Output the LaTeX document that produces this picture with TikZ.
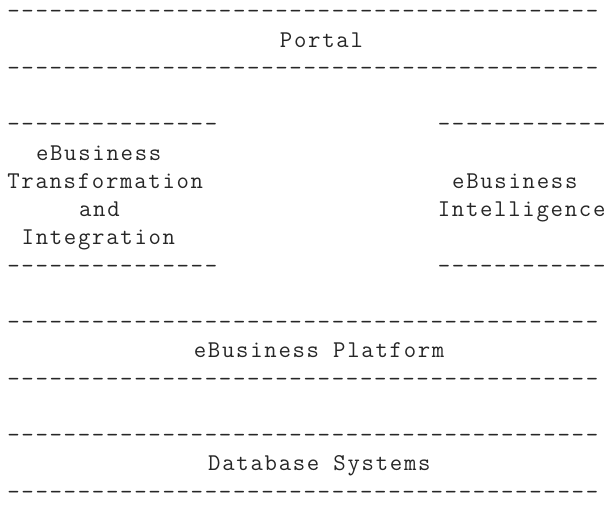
\documentclass[tikz,border=0pt]{standalone}
\usepackage{fontspec}
\setmonofont{Latin Modern Mono}[LetterSpace=7.12]
\tikzset{
  asc/.style={font=\ttfamily\fontsize{24.07pt}{28pt}\selectfont, text=black!85,
              inner sep=0pt, outer sep=0pt, anchor=base west},
}
% column c, row r  ->  x = 7.3 + 14.35 c ,  baseline y = 18.8 + 28.25 r
\newcommand{\cx}[1]{7.3+14.35*#1}
\newcommand{\ry}[1]{18.8+28.25*#1}
\begin{document}
\begin{tikzpicture}[x=1pt,y=-1pt]
\useasboundingbox (0,0) rectangle (611,504);
% Portal
\node[asc] (portalTop) at ({\cx{0}},{\ry{0}}) {------------------------------------------};
\node[asc] (portal)    at ({\cx{19}},{\ry{1}}) {Portal};
\node[asc] (portalBot) at ({\cx{0}},{\ry{2}}) {------------------------------------------};
% eBusiness Transformation and Integration
\node[asc] (tiTop) at ({\cx{0}},{\ry{4}}) {---------------};
\node[asc] (ti1)   at ({\cx{2}},{\ry{5}}) {eBusiness};
\node[asc] (ti2)   at ({\cx{0}},{\ry{6}}) {Transformation};
\node[asc] (ti3)   at ({\cx{5}},{\ry{7}}) {and};
\node[asc] (ti4)   at ({\cx{1}},{\ry{8}}) {Integration};
\node[asc] (tiBot) at ({\cx{0}},{\ry{9}}) {---------------};
% eBusiness Intelligence
\node[asc] (biTop) at ({\cx{30}},{\ry{4}}) {------------};
\node[asc] (bi1)   at ({\cx{31}},{\ry{6}}) {eBusiness};
\node[asc] (bi2)   at ({\cx{30}},{\ry{7}}) {Intelligence};
\node[asc] (biBot) at ({\cx{30}},{\ry{9}}) {------------};
% eBusiness Platform
\node[asc] (platTop) at ({\cx{0}},{\ry{11}}) {------------------------------------------};
\node[asc] (plat)    at ({\cx{13}},{\ry{12}}) {eBusiness Platform};
\node[asc] (platBot) at ({\cx{0}},{\ry{13}}) {------------------------------------------};
% Database Systems
\node[asc] (dbTop) at ({\cx{0}},{\ry{15}}) {------------------------------------------};
\node[asc] (db)    at ({\cx{14}},{\ry{16}}) {Database Systems};
\node[asc] (dbBot) at ({\cx{0}},{\ry{17}}) {------------------------------------------};
\end{tikzpicture}
\end{document}
